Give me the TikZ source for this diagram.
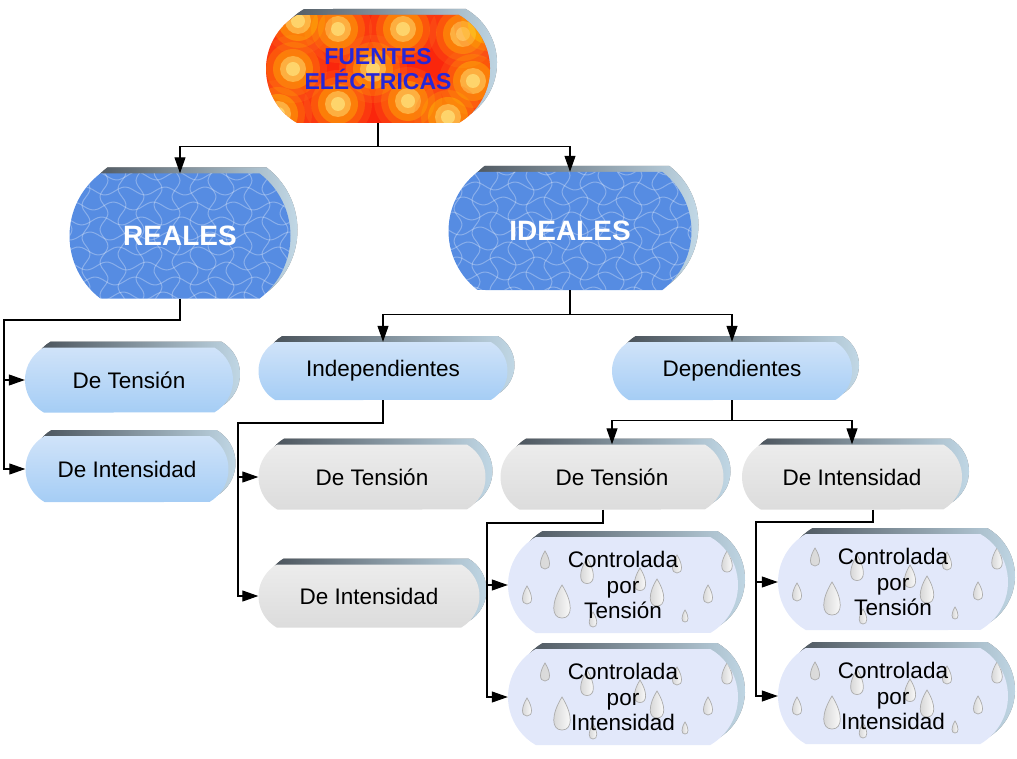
\documentclass[tikz,border=0pt]{standalone}
\usepackage{fontspec}
\setmainfont{Liberation Sans}
\usetikzlibrary{shapes.misc,shadows,arrows.meta,calc}

\definecolor{firered}{RGB}{250,38,12}
\definecolor{fireorange}{RGB}{255,120,30}
\definecolor{fireyel}{RGB}{255,250,150}
\definecolor{waterblue}{RGB}{86,140,226}
\definecolor{cloudtop}{RGB}{208,227,249}
\definecolor{cloudbot}{RGB}{165,205,245}
\definecolor{marbletop}{RGB}{236,236,236}
\definecolor{marblebot}{RGB}{220,220,220}
\definecolor{dropbg}{RGB}{226,232,250}
\definecolor{rimdark}{RGB}{68,76,84}
\definecolor{rimlight}{RGB}{195,218,232}
\definecolor{titleblue}{RGB}{38,38,215}

% little texture pieces, placed from the centre of the path picture
\newcommand\waterdrop[3]{%
  \filldraw[left color=gray!35,right color=white,draw=gray!65,line width=0.7pt]
    ($(path picture bounding box.center)+(#1,#2)$) ++(0,-10*#3)
    .. controls +(5*#3,8*#3) and +(5*#3,0) .. ++(0,15*#3)
    .. controls +(-5*#3,0) and +(-5*#3,8*#3) .. ++(0,-15*#3) -- cycle;}
\newcommand\flame[2]{%
  \foreach \fr/\fc/\fo in {34/fireorange/.22,27/orange!60!yellow/.25,20/yellow!80!orange/.3,
      13/fireyel/.4,7/fireyel/.5}
    {\fill[\fc,opacity=\fo] ($(path picture bounding box.center)+(#1,#2)$) circle[radius=\fr pt];}}
\newcommand\dropfield{%
  \waterdrop{-78}{-22}{1.2}\waterdrop{-36}{-10}{1.7}\waterdrop{-96}{13}{1.2}
  \waterdrop{-61}{22}{2.2}\waterdrop{34}{12}{1.8}\waterdrop{54}{-18}{1.2}
  \waterdrop{85}{12}{1.2}\waterdrop{62}{33}{0.8}\waterdrop{104}{-20}{1.4}
  \waterdrop{-30}{37}{1}\waterdrop{17}{-2}{1.5}}
\newcommand\flamefield{%
  \flame{-85}{0}\flame{-40}{-40}\flame{25}{-40}\flame{85}{-35}
  \flame{-40}{35}\flame{30}{32}\flame{95}{12}\flame{-5}{0}
  \flame{-100}{45}\flame{110}{-45}\flame{-80}{-48}\flame{70}{48}}
\newcommand\waterfield{%
  \foreach \wy in {-60,-45,...,60}
    {\draw[white,opacity=.3,line width=1pt] let \p1=(path picture bounding box.center) in
      plot[variable=\t,domain=-130:130,samples=50,smooth]
      ({\x1+\t},{\y1-\wy-4*sin(\t*9+\wy*7)});}
  \foreach \wx in {-130,-112,...,130}
    {\draw[white,opacity=.3,line width=1pt] let \p1=(path picture bounding box.center) in
      plot[variable=\t,domain=-70:70,samples=30,smooth]
      ({\x1+\wx+4*sin(\t*11+\wx*5)},{\y1-\t});}}

\begin{document}
\begin{tikzpicture}[
  x=1pt, y=-1pt,
  box/.style={rounded rectangle, rounded rectangle arc length=120, inner sep=0pt,
    align=center, font=\fontsize{22.5}{25.5}\selectfont,
    drop shadow={shadow xshift=7pt, shadow yshift=6pt, opacity=1,
      left color=rimdark, right color=rimlight}},
  fire/.style={box, fill=firered, text=titleblue,
    font=\fontsize{23}{25}\selectfont\bfseries,
    path picture={\flamefield}},
  water/.style={box, rounded rectangle arc length=105, fill=waterblue, text=white,
    font=\fontsize{28}{30}\selectfont\bfseries,
    path picture={\waterfield}},
  cloud/.style={box, top color=cloudtop, bottom color=cloudbot},
  marble/.style={box, top color=marbletop, bottom color=marblebot},
  drops/.style={box, fill=dropbg, minimum width=230pt, minimum height=96pt,
    path picture={\dropfield}},
  link/.style={draw, line width=1.1pt, -{Triangle[length=16pt,width=11pt]}}
]
\useasboundingbox (0,0) rectangle (1017,759);

\node[fire, minimum width=224pt, minimum height=108pt] (fuentes) at (378,69) {FUENTES\\ELÉCTRICAS};
\node[water, minimum width=221pt, minimum height=125pt] (reales) at (180,236) {REALES};
\node[water, minimum width=243pt, minimum height=118pt] (ideales) at (570,231) {IDEALES};

\node[cloud, minimum width=208pt, minimum height=65pt] (rtension) at (129,380) {De Tensión};
\node[cloud, minimum width=203pt, minimum height=66pt] (rintens) at (127,469) {De Intensidad};
\node[cloud, minimum width=249pt, minimum height=58pt] (indep) at (383,371) {Independientes};
\node[cloud, minimum width=240pt, minimum height=58pt] (dep) at (732,371) {Dependientes};

\node[marble, minimum width=227pt, minimum height=65pt] (itension) at (372,477) {De Tensión};
\node[marble, minimum width=221pt, minimum height=63pt] (iintens) at (369,596) {De Intensidad};
\node[marble, minimum width=223pt, minimum height=65pt] (dtension) at (612,477) {De Tensión};
\node[marble, minimum width=220pt, minimum height=65pt] (dintens) at (852,477) {De Intensidad};

\node[drops] (vcv) at (623,585) {Controlada\\por\\Tensión};
\node[drops] (vci) at (623,697) {Controlada\\por\\Intensidad};
\node[drops] (icv) at (893,582) {Controlada\\por\\Tensión};
\node[drops] (ici) at (893,696) {Controlada\\por\\Intensidad};

% connectors
\draw[link] (fuentes.south) -- ++(0,23) -| (reales.north);
\draw[link] (fuentes.south) -- ++(0,23) -| (ideales.north);

\coordinate (rbus) at (4,320);
\draw[link] (reales.south) |- (rbus) |- (rtension.west);
\draw[link] (rbus) |- (rintens.west);

\draw[link] (ideales.south) -- ++(0,24) -| (indep.north);
\draw[link] (ideales.south) -- ++(0,24) -| (dep.north);

\coordinate (ibus) at (238,423);
\draw[link] (indep.south) |- (ibus) |- (itension.west);
\draw[link] (ibus) |- (iintens.west);

\draw[link] (dep.south) -- ++(0,20) -| (dtension.north);
\draw[link] (dep.south) -- ++(0,20) -| (dintens.north);

\coordinate (vbus) at (487,523);
\draw[link] ([xshift=-9pt]dtension.south) |- (vbus) |- (vcv.west);
\draw[link] (vbus) |- (vci.west);

\coordinate (cbus) at (756,522);
\draw[link] ([xshift=21pt]dintens.south) |- (cbus) |- (icv.west);
\draw[link] (cbus) |- (ici.west);
\end{tikzpicture}
\end{document}
